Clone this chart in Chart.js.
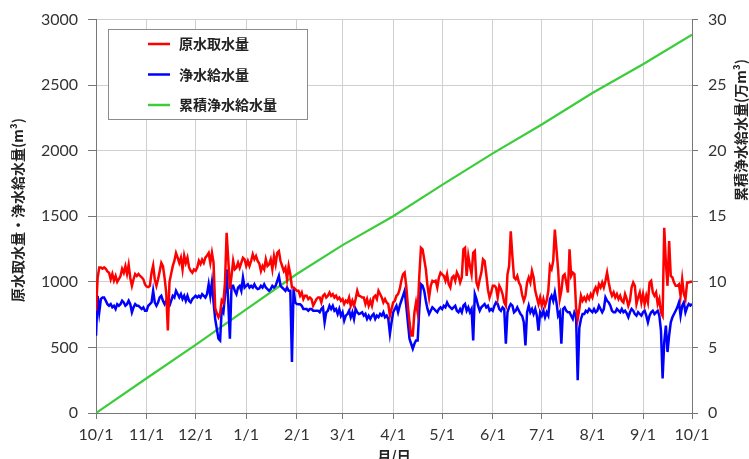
<!DOCTYPE html>
<html>
<head>
<meta charset="utf-8">
<script src="https://cdn.jsdelivr.net/npm/chart.js@4.4.0/dist/chart.umd.min.js"></script>
<style>
  html, body { margin: 0; padding: 0; background: #fff; }
</style>
</head>
<body>
<canvas id="chart" width="749" height="459"></canvas>
<script>
// day offsets of month starts (10/1 .. 10/1) and their labels
var monthDays = [0, 31, 61, 92, 123, 151, 182, 212, 243, 273, 304, 335, 365];
var monthLabels = ['10/1', '11/1', '12/1', '1/1', '2/1', '3/1', '4/1', '5/1', '6/1', '7/1', '8/1', '9/1', '10/1'];

// 原水取水量 (m3/day), one value per day from 10/1
var rawWater = [
    780,1030,1110,1110,1100,1110,1100,1080,1070,1020,
    1060,1010,1045,1000,1020,1045,1100,1070,1120,1060,
    1130,1030,970,1020,1060,1045,1060,1045,1035,1020,
    980,965,960,970,1070,1125,1020,970,1020,1080,
    1145,1120,1030,920,630,1000,1060,1120,1160,1220,
    1185,1145,1185,1095,1200,1145,1185,1110,1085,1070,
    1095,1085,1110,1160,1135,1170,1145,1185,1200,1220,
    1145,
    1222,1146,800,760,730,760,860,843,995,1374,1172,944,1045,1160,
    1096,1108,1146,1108,1146,1184,1172,1121,1159,1121,1159,1210,1172,1197,1159,
    1140,
    1083,1121,1096,1172,1121,1134,1172,1096,1197,1134,1222,1235,1159,1121,1083,
    1108,1020,1120,1058,957,957,945,932,932,894,919,868,894,894,868,881,868,818,
    843,868,881,881,843,894,907,881,894,919,
    894,907,881,894,869,881,856,869,831,856,
    843,881,818,856,818,869,932,894,890,881,
    881,831,869,818,856,818,881,894,869,932,
    907,881,843,869,843,831,742,793,843,856,
    894,907,944,1008,1058,1071,970,818,692,591,
    591,768,843,768,1045,1260,1248,1172,1096,970,
    881,970,1008,1000,1008,957,1033,1071,1058,1045,
    1008,1058,982,957,
    1033,1045,1008,1071,1045,995,1033,1248,1260,1045,
    1197,1121,1058,1222,1235,995,957,1020,1071,1172,
    1159,1058,944,881,919,970,970,957,881,970,
    944,906,843,818,1058,1121,1386,1197,1033,1020,
    1045,995,970,900,856,894,995,1033,995,1083,
    1033,932,881,831,881,818,869,818,856,932,
    1121,1096,1159,1399,1248,1096,869,932,1045,1058,
    995,919,
    1248,1045,1071,1060,806,717,793,894,856,881,
    856,894,869,907,881,932,957,920,982,957,
    995,957,1008,1071,995,932,894,920,881,907,
    869,894,856,843,907,870,818,856,957,995,
    970,831,881,919,843,907,831,894,843,995,
    1008,919,894,919,831,869,768,742,1412,1146,
    970,1311,1045,1033,995,970,970,982,894,1020,
    907,869,995,995,1000,1000
];

// 浄水給水量 (m3/day)
var cleanWater = [
    590,894,768,870,880,880,856,830,818,830,
    806,818,793,830,818,830,856,843,818,830,
    856,830,768,806,830,818,818,806,793,806,
    780,780,818,830,843,932,843,818,843,881,
    894,856,830,856,806,818,856,894,881,932,
    907,881,907,869,894,856,894,856,843,869,
    881,894,881,894,881,907,894,881,907,982,
    894,
    995,843,717,641,566,553,793,768,894,1096,843,566,970,970,
    932,907,957,970,932,1033,957,970,982,957,970,957,982,957,945,
    950,
    970,957,982,957,945,932,945,970,957,970,1008,1045,970,957,945,
    932,957,932,932,389,945,843,831,830,830,818,793,793,793,780,793,793,780,
    780,780,780,768,793,806,692,768,780,818,
    793,818,780,793,755,793,742,768,705,742,
    755,780,730,768,717,793,768,755,760,768,
    742,755,717,742,717,742,755,717,742,730,
    755,742,768,730,742,717,604,692,768,793,
    818,768,818,856,894,932,818,692,566,528,
    490,528,553,553,793,982,970,932,856,793,
    755,780,806,795,780,768,793,806,793,818,
    806,843,818,806,
    793,806,818,780,768,793,768,818,831,780,
    806,768,793,553,907,869,818,780,806,818,
    831,806,818,780,793,780,818,843,831,793,
    780,806,793,528,768,806,831,818,768,780,
    806,780,755,740,692,515,768,818,768,793,
    755,793,742,629,768,742,780,730,768,742,
    869,894,856,919,843,742,768,528,793,806,
    780,768,
    768,742,717,768,742,250,650,717,755,755,
    780,768,793,780,768,793,768,780,818,793,
    768,793,881,856,843,818,780,768,768,793,
    780,768,793,768,780,760,730,768,793,780,
    755,742,768,755,742,768,780,742,692,742,
    768,780,755,768,780,742,629,263,541,667,
    465,591,692,730,755,780,806,843,742,818,
    843,768,806,831,820,831
];

// 累積浄水給水量 (万m3) read at each month start
var cumulative = [0, 2.65, 5.2, 7.9, 10.6, 12.8, 15.0, 17.4, 19.8, 22.0, 24.4, 26.6, 28.85];

var tickFont = { family: 'Lato', size: 16 };
var jpFont = '"Noto Sans CJK JP", sans-serif';

function daily(values) {
    return values.map(function(v, i) { return { x: i, y: v }; });
}

function plain(value) {
    return String(value);
}

var overlay = {
    id: 'overlay',
    afterDraw: function(chart) {
        var ctx = chart.ctx;
        ctx.save();

        // legend box inside the plot
        ctx.fillStyle = '#fff';
        ctx.fillRect(108.5, 29.5, 199, 90);
        ctx.strokeStyle = '#8c8c8c';
        ctx.lineWidth = 1;
        ctx.strokeRect(108.5, 29.5, 199, 90);
        ctx.font = 'bold 14px ' + jpFont;
        ctx.textBaseline = 'middle';
        chart.data.datasets.forEach(function(ds, i) {
            var y = 44 + i * 30.5;
            ctx.strokeStyle = ds.borderColor;
            ctx.lineWidth = 2.5;
            ctx.beginPath();
            ctx.moveTo(148, y);
            ctx.lineTo(170, y);
            ctx.stroke();
            ctx.fillStyle = '#222';
            ctx.fillText(ds.label, 179, y);
        });

        // axis titles
        ctx.fillStyle = '#222';
        ctx.textAlign = 'center';
        ctx.font = 'bold 14px ' + jpFont;
        ctx.save();
        ctx.translate(18, 210);
        ctx.rotate(-Math.PI / 2);
        ctx.fillText('原水取水量・浄水給水量(m³)', 0, 0);
        ctx.restore();

        ctx.save();
        ctx.translate(741, 130);
        ctx.rotate(-Math.PI / 2);
        ctx.fillText('累積浄水給水量(万m³)', 0, 0);
        ctx.restore();

        ctx.textBaseline = 'top';
        ctx.fillText('月/日', 394, 449);
        ctx.restore();
    }
};

new Chart(document.getElementById('chart').getContext('2d'), {
    type: 'line',
    data: {
        datasets: [
            {
                label: '原水取水量',
                data: daily(rawWater),
                borderColor: '#ff0000',
                borderWidth: 2.5,
                yAxisID: 'y'
            },
            {
                label: '浄水給水量',
                data: daily(cleanWater),
                borderColor: '#0000ff',
                borderWidth: 2.5,
                yAxisID: 'y'
            },
            {
                label: '累積浄水給水量',
                data: cumulative.map(function(v, i) { return { x: monthDays[i], y: v }; }),
                borderColor: '#3ccc3c',
                borderWidth: 2.2,
                yAxisID: 'y2'
            }
        ]
    },
    options: {
        responsive: false,
        animation: false,
        events: [],
        elements: { point: { radius: 0 }, line: { tension: 0 } },
        layout: { padding: { top: 17, left: 0, right: 0, bottom: 0 } },
        plugins: { legend: { display: false }, tooltip: { enabled: false } },
        scales: {
            x: {
                type: 'linear',
                min: 0,
                max: 365,
                afterBuildTicks: function(axis) {
                    axis.ticks = monthDays.map(function(d) { return { value: d }; });
                },
                afterFit: function(axis) { axis.height = 46; },
                ticks: {
                    autoSkip: false,
                    maxRotation: 0,
                    padding: 6,
                    color: '#333',
                    font: tickFont,
                    callback: function(value, index) { return monthLabels[index]; }
                },
                grid: { color: '#cfcfcf', tickColor: '#777', tickLength: 6 },
                border: { color: '#777' }
            },
            y: {
                position: 'left',
                min: 0,
                max: 3000,
                afterFit: function(axis) { axis.width = 96; },
                ticks: { stepSize: 500, padding: 10, color: '#333', font: tickFont, callback: plain },
                grid: { color: '#cfcfcf', tickColor: '#777', tickLength: 8 },
                border: { color: '#777' }
            },
            y2: {
                position: 'right',
                min: 0,
                max: 30,
                afterFit: function(axis) { axis.width = 57; },
                ticks: { stepSize: 5, padding: 10, color: '#333', font: tickFont, callback: plain },
                grid: { drawOnChartArea: false, tickColor: '#777', tickLength: 6 },
                border: { color: '#777' }
            }
        }
    },
    plugins: [overlay]
});
</script>
</body>
</html>
